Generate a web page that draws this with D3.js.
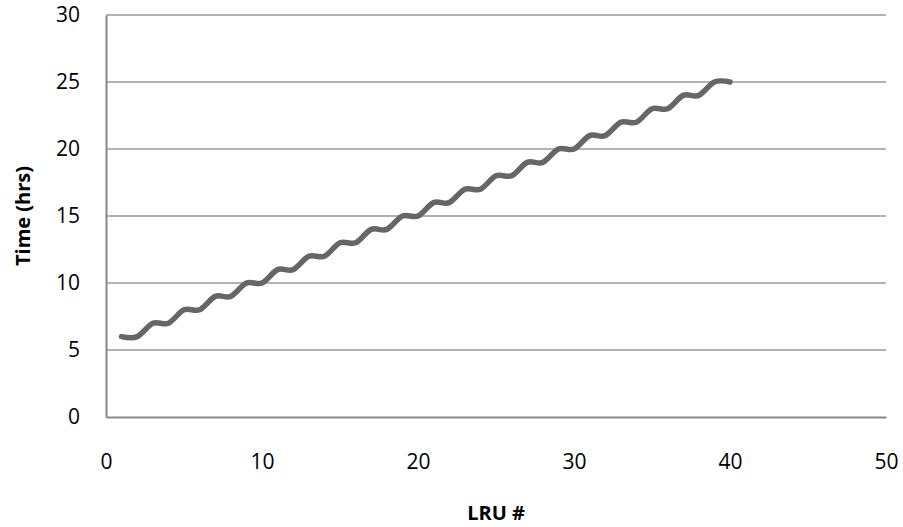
<!DOCTYPE html>
<html>
<head>
<meta charset="utf-8">
<script src="https://cdn.jsdelivr.net/npm/d3@7"></script>
<style>
    body { margin: 0; background: #ffffff; }
    text { font-family: "Open Sans", "Liberation Sans", sans-serif; fill: #000; }
</style>
</head>
<body>
<svg id="lru-chart"></svg>
<script>
// LRU index and time in hours
const lru_numbers = [1, 2, 3, 4, 5, 6, 7, 8, 9, 10,
    11, 12, 13, 14, 15, 16, 17, 18, 19, 20,
    21, 22, 23, 24, 25, 26, 27, 28, 29, 30,
    31, 32, 33, 34, 35, 36, 37, 38, 39, 40];
const time_hours = [6, 6, 7, 7, 8, 8, 9, 9, 10, 10,
    11, 11, 12, 12, 13, 13, 14, 14, 15, 15,
    16, 16, 17, 17, 18, 18, 19, 19, 20, 20,
    21, 21, 22, 22, 23, 23, 24, 24, 25, 25];
const x_ticks = [0, 10, 20, 30, 40, 50];
const y_ticks = [0, 5, 10, 15, 20, 25, 30];

// Chart dimensions
const chart_width = 903, chart_height = 527;
const margins = { top: 15, right: 17, bottom: 110, left: 106 };
const plot_width = chart_width - margins.left - margins.right;
const plot_height = chart_height - margins.top - margins.bottom;

const x_scale = d3.scaleLinear().domain([0, 50]).range([0, plot_width]);
const y_scale = d3.scaleLinear().domain([0, 30]).range([plot_height, 0]);

const svg = d3.select("#lru-chart")
    .attr("width", chart_width)
    .attr("height", chart_height);

const plot = svg.append("g")
    .attr("transform", `translate(${margins.left}, ${margins.top})`);

// Horizontal gridlines
plot.append("g")
    .selectAll("line")
    .data(y_ticks.filter(d => d > 0))
    .join("line")
    .attr("x1", 0)
    .attr("x2", plot_width)
    .attr("y1", d => y_scale(d))
    .attr("y2", d => y_scale(d))
    .style("stroke", "#999999")
    .style("stroke-width", 1.5);

// Y axis
const y_axis = plot.append("g")
    .call(d3.axisLeft(y_scale).tickValues(y_ticks).tickSize(0).tickPadding(26));
y_axis.select(".domain").style("stroke", "#888888").style("stroke-width", 2);
y_axis.selectAll("text").style("font-size", "21px");

// X axis
const x_axis = plot.append("g")
    .attr("transform", `translate(0, ${plot_height})`)
    .call(d3.axisBottom(x_scale).tickValues(x_ticks).tickSize(0).tickPadding(37));
x_axis.select(".domain").style("stroke", "#888888").style("stroke-width", 2);
x_axis.selectAll("text").style("font-size", "21px");

// Smoothed line of the series
const line_gen = d3.line()
    .x(d => x_scale(d[0]))
    .y(d => y_scale(d[1]))
    .curve(d3.curveCatmullRom.alpha(0));

plot.append("path")
    .datum(d3.zip(lru_numbers, time_hours))
    .attr("d", line_gen)
    .style("fill", "none")
    .style("stroke", "#666666")
    .style("stroke-width", 5.5)
    .style("stroke-linecap", "round")
    .style("stroke-linejoin", "round");

// Axis titles
svg.append("text")
    .attr("x", margins.left + x_scale(25))
    .attr("y", 520)
    .attr("text-anchor", "middle")
    .style("font-size", "20px")
    .style("font-weight", "bold")
    .text("LRU #");

svg.append("text")
    .attr("transform", `translate(30, ${margins.top + y_scale(15)}) rotate(-90)`)
    .attr("text-anchor", "middle")
    .style("font-size", "20px")
    .style("font-weight", "bold")
    .text("Time (hrs)");
</script>
</body>
</html>
